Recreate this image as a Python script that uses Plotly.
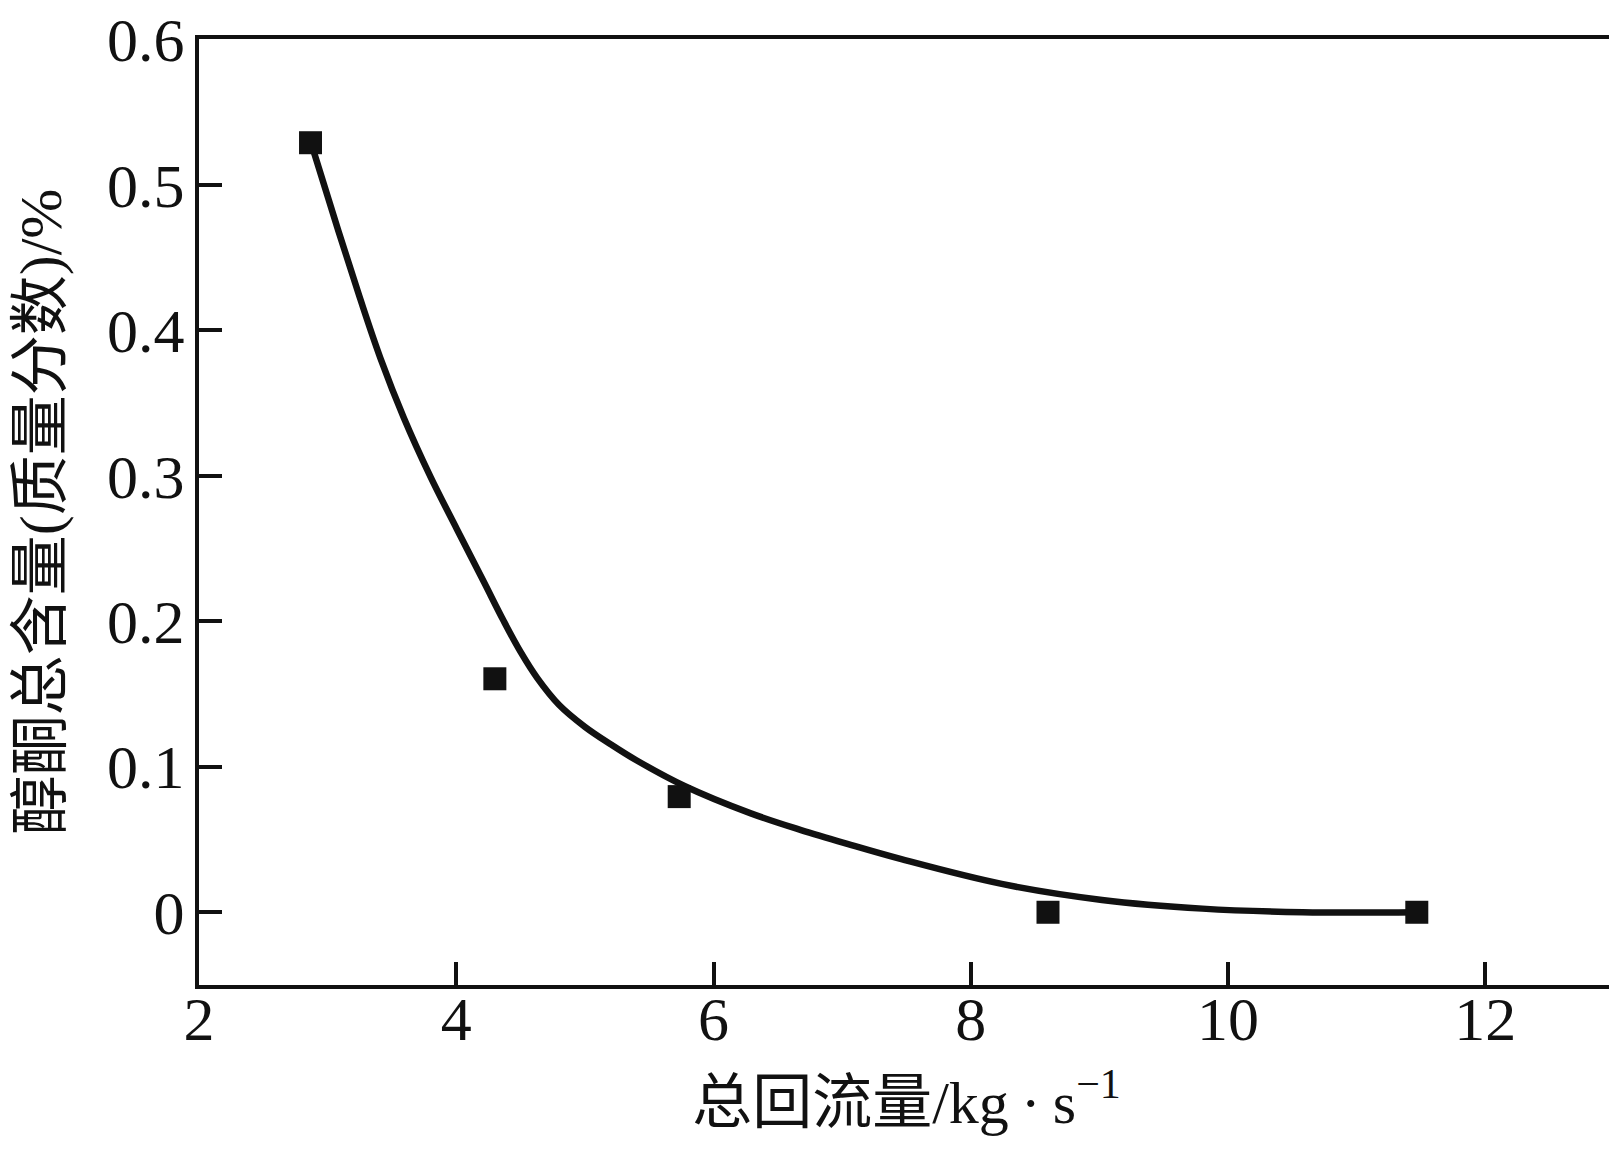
import plotly.graph_objects as go

# measured points
flow = [2.867, 4.3, 5.733, 8.6, 11.467]
content = [0.529, 0.1605, 0.0795, 0.0, 0.0]

# fitted curve
curve_x = [2.867, 3.085, 3.254, 3.41, 3.592, 3.799, 4.007, 4.215, 4.37, 4.50,
           4.63, 4.80, 5.00, 5.20, 5.40, 5.77, 6.29, 6.68, 7.04, 7.46, 8.24, 9.02,
           9.80, 10.58, 11.47]
curve_y = [0.530, 0.468, 0.4215, 0.381, 0.340, 0.2995, 0.263, 0.227, 0.200, 0.179,
           0.161, 0.1425, 0.1275, 0.1155, 0.1045, 0.087, 0.068, 0.0565, 0.047, 0.0365, 0.0195, 0.0085,
           0.0025, 0.0, 0.0]

x_ticks = [2, 4, 6, 8, 10, 12]
y_ticks = [0, 0.1, 0.2, 0.3, 0.4, 0.5, 0.6]
y_labels = ['0', '0.1', '0.2', '0.3', '0.4', '0.5', '0.6']

font_fam = "Liberation Serif, Noto Sans CJK SC, serif"

fig = go.Figure()

fig.add_trace(go.Scatter(x=curve_x, y=curve_y, mode='lines',
                         line=dict(color='#111111', width=6.5, shape='spline', smoothing=1.0),
                         showlegend=False, hoverinfo='skip'))

fig.add_trace(go.Scatter(x=flow, y=content, mode='markers',
                         marker=dict(symbol='square', size=23, color='#111111',
                                     line=dict(width=0)),
                         showlegend=False))

axis_common = dict(showline=True, linecolor='#111111', linewidth=4, mirror=True,
                   ticks='inside', ticklen=23, tickwidth=4, tickcolor='#111111',
                   showgrid=False, zeroline=False, automargin=False,
                   ticklabeloverflow='allow',
                   tickfont=dict(family=font_fam, size=62, color='#111111'))

fig.update_xaxes(range=[2, 13], tickvals=x_ticks, ticklabelstandoff=-23,
                 title=dict(text='总回流量/kg\u2009·\u2009s<sup>−1</sup>',
                            font=dict(family=font_fam, size=60, color='#111111'),
                            standoff=30),
                 **axis_common)

fig.update_yaxes(range=[-0.05, 0.6003], tickvals=y_ticks, ticktext=y_labels,
                 ticklabelstandoff=-2,
                 title=dict(text='醇酮总含量(质量分数)/%',
                            font=dict(family=font_fam, size=60, color='#111111'),
                            standoff=58),
                 **axis_common)

# page body adds an 8px offset, so the figure is a bit smaller
fig.update_layout(width=1609, height=1147,
                  margin=dict(l=191, r=3, t=31, b=170),
                  plot_bgcolor='white', paper_bgcolor='white',
                  font=dict(family=font_fam, color='#111111'))

fig.write_html("out.html")
